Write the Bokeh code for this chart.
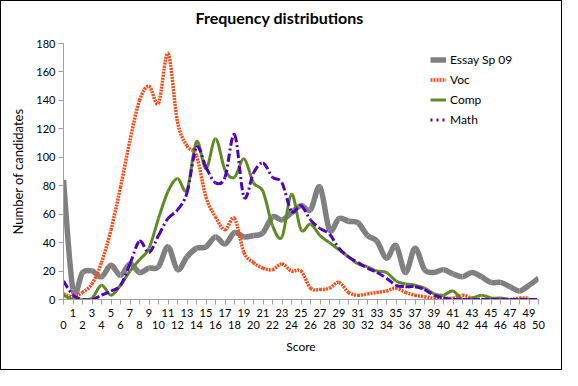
from bokeh.plotting import figure
from bokeh.models import ColumnDataSource, FixedTicker, LinearAxis, Legend, LegendItem, Range1d, Title
from bokeh.embed import file_html
from bokeh.resources import INLINE

# ---------------- data ----------------
scores = list(range(51))
essay = [84, 7, 19, 20, 16, 24, 17, 25, 19, 22,
         23, 37, 21, 30, 36, 37, 44, 39, 47, 44,
         45, 47, 58, 56, 61, 66, 63, 79, 49, 57,
         55, 54, 45, 41, 29, 38, 19, 36, 21, 19,
         21, 18, 16, 19, 16, 12, 12, 9, 6, 10,
         15]
voc = [4, 2, 5, 11, 26, 49, 79, 112, 140, 150,
       138, 173, 125, 108, 101, 72, 58, 49, 57, 33,
       26, 22, 21, 25, 20, 20, 8, 7, 8, 12,
       5, 3, 4, 5, 6, 8, 5, 3, 2, 1,
       1, 1, 3, 1, 0, 0, 0, 0, 1, 1]
comp = [3, 0, 0, 1, 10, 3, 10, 20, 28, 36,
        57, 76, 85, 77, 111, 92, 113, 91, 86, 99,
        82, 76, 52, 44, 74, 49, 53, 45, 40, 35,
        30, 25, 23, 20, 19, 13, 11, 10, 8, 4,
        3, 6, 0, 1, 3, 1, 1, 0, 0, 0]
math = [13, 3, 0, 0, 3, 6, 10, 25, 41, 33,
        45, 57, 63, 75, 107, 93, 82, 86, 116, 72,
        89, 96, 86, 82, 62, 66, 56, 50, 46, 36,
        30, 26, 22, 19, 15, 10, 9, 9, 7, 3,
        1, 0, 0, 0, 0, 0, 0, 0, 0, 0,
        0]
series_names = ["Essay Sp 09", "Voc", "Comp", "Math"]
y_ticks = list(range(0, 181, 20))
title_text = "Frequency distributions"

FONT = "Lato"


def smooth_source(ys):
    """Cubic Bezier segments (Excel-style smoothing) through the data points."""
    xs = scores[:len(ys)]
    n = len(ys)
    d = {k: [] for k in ("x0", "y0", "x1", "y1", "cx0", "cy0", "cx1", "cy1")}
    for i in range(n - 1):
        im, ip = max(i - 1, 0), min(i + 2, n - 1)
        d["x0"].append(xs[i]); d["y0"].append(ys[i])
        d["x1"].append(xs[i + 1]); d["y1"].append(ys[i + 1])
        d["cx0"].append(xs[i] + (xs[i + 1] - xs[im]) / 6)
        d["cy0"].append(ys[i] + (ys[i + 1] - ys[im]) / 6)
        d["cx1"].append(xs[i + 1] - (xs[ip] - xs[i]) / 6)
        d["cy1"].append(ys[i + 1] - (ys[ip] - ys[i]) / 6)
    return ColumnDataSource(d)


p = figure(width=562, height=370, output_backend="svg", toolbar_location=None,
           x_range=Range1d(0, 50), y_range=Range1d(0, 180),
           min_border_left=62, min_border_right=25, min_border_top=42, min_border_bottom=72)
p.styles = {"border": "1px solid black"}
p.grid.visible = False
p.outline_line_color = None
p.background_fill_color = "white"
p.title.text = ""

# spacer between the plot frame and the chart title
p.add_layout(Title(text=" ", text_font_size="2px", standoff=13), "above")
p.add_layout(Title(text=title_text, align="left", offset=132, standoff=0,
                   text_font=FONT, text_font_size="16px", text_font_style="bold",
                   text_color="black"), "above")

AX = "#a0a0a0"
# y axis
yax = p.yaxis[0]
yax.ticker = FixedTicker(ticks=y_ticks)
yax.axis_line_color = AX
yax.major_tick_line_color = AX
yax.major_tick_out = 5
yax.major_tick_in = 0
yax.minor_tick_line_color = None
yax.major_label_standoff = 3
yax.major_label_text_font = FONT
yax.major_label_text_font_size = "11px"
yax.major_label_text_color = "black"
yax.axis_label = "Number of candidates"
yax.axis_label_text_font = FONT
yax.axis_label_text_font_size = "13px"
yax.axis_label_text_font_style = "normal"
yax.axis_label_text_color = "black"
yax.axis_label_standoff = 7

# x axis: ticks at every score, odd labels on the first row
xax = p.xaxis[0]
xax.ticker = FixedTicker(ticks=scores)
xax.major_label_overrides = {s: (str(s) if s % 2 else "") for s in scores}
xax.axis_line_color = AX
xax.major_tick_line_color = AX
xax.major_tick_out = 5
xax.major_tick_in = 0
xax.minor_tick_line_color = None
xax.major_label_standoff = 4
xax.major_label_text_font = FONT
xax.major_label_text_font_size = "11px"
xax.major_label_text_color = "black"

# second row of x labels (even scores)
xax2 = LinearAxis(ticker=FixedTicker(ticks=[s for s in scores if s % 2 == 0]))
xax2.axis_line_color = None
xax2.major_tick_line_color = None
xax2.major_tick_out = 0
xax2.major_tick_in = 0
xax2.minor_tick_line_color = None
xax2.major_label_standoff = 1
xax2.major_label_text_font = FONT
xax2.major_label_text_font_size = "11px"
xax2.major_label_text_color = "black"
xax2.axis_label = "Score"
xax2.axis_label_text_font = FONT
xax2.axis_label_text_font_size = "12px"
xax2.axis_label_text_font_style = "normal"
xax2.axis_label_text_color = "black"
xax2.axis_label_standoff = 7
p.add_layout(xax2, "below")

styles = [
    dict(color="#808080", width=5.5, dash="solid", legend_dash="solid"),
    dict(color="#ff4a14", width=3.5, dash="2 1", legend_dash="2 1"),
    dict(color="#5e8b22", width=3, dash="solid", legend_dash="solid"),
    dict(color="#5200c0", width=3, dash="8 3 2 3", legend_dash="2 4"),
]
data = [essay, voc, comp, math]

items = []
for name, ys, st in zip(series_names, data, styles):
    src = smooth_source(ys)
    p.bezier(x0="x0", y0="y0", x1="x1", y1="y1", cx0="cx0", cy0="cy0", cx1="cx1", cy1="cy1",
             source=src, line_color=st["color"], line_width=st["width"], line_dash=st["dash"])
    # single-point line: draws nothing in the plot, only provides the legend sample
    r = p.line(x=scores[:1], y=ys[:1], line_color=st["color"], line_width=st["width"],
               line_dash=st["legend_dash"])
    items.append(LegendItem(label=name, renderers=[r]))

legend = Legend(items=items, location=(367, 171), border_line_color=None,
                background_fill_alpha=0, padding=0, margin=0, spacing=3,
                label_height=17, glyph_height=17, glyph_width=16, label_standoff=4,
                label_text_font=FONT, label_text_font_size="12px", label_text_color="black")
p.add_layout(legend)

open("out.html", "w").write(file_html(p, INLINE))
